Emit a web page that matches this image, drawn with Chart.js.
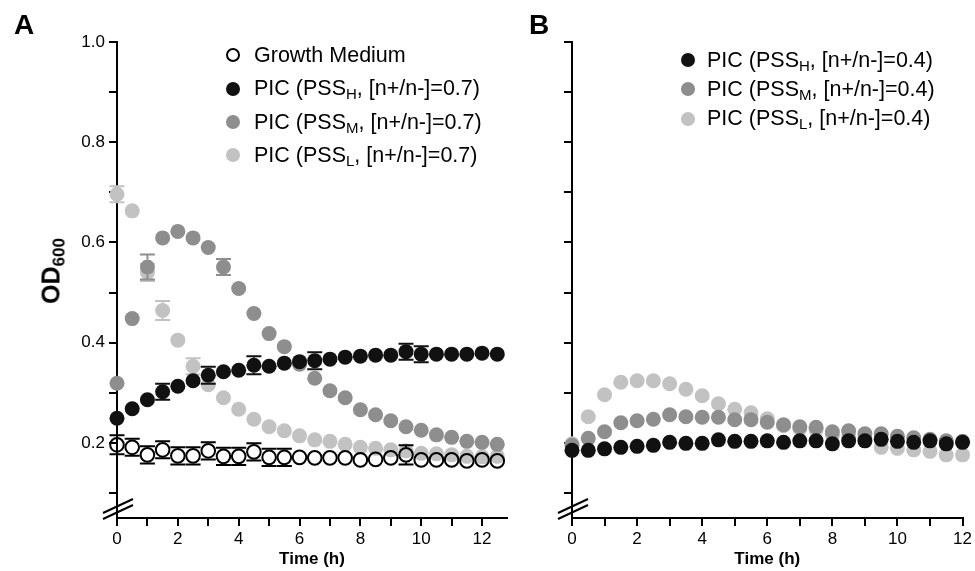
<!DOCTYPE html>
<html><head><meta charset="utf-8">
<script src="https://cdn.jsdelivr.net/npm/chart.js@4.4.0/dist/chart.umd.min.js"></script>
<style>
html,body{margin:0;padding:0;background:#fff;}
#wrap{position:relative;width:975px;height:571px;overflow:hidden;font-family:"Liberation Sans",Arial,sans-serif;color:#000;background:#fff;}
canvas{position:absolute;top:0;}
.panel{position:absolute;font-weight:bold;font-size:28px;line-height:28px;}
.leg{position:absolute;font-size:21.5px;white-space:nowrap;line-height:21px;}
.mk{position:absolute;width:14px;height:14px;border-radius:50%;box-sizing:border-box;}
.leg sub{font-size:15px;vertical-align:-4px;line-height:0;}
#ytitle{position:absolute;font-weight:bold;font-size:25px;line-height:25px;white-space:nowrap;transform:translate(-50%,-50%) rotate(-90deg);}
#ytitle sub{font-size:17px;vertical-align:-5px;line-height:0;}
</style></head>
<body>
<div id="wrap">
  <canvas id="cA" width="520" height="571" style="left:0;width:520px;height:571px"></canvas>
  <canvas id="cB" width="455" height="571" style="left:520px;width:455px;height:571px"></canvas>
  <div class="panel" style="left:14px;top:11px">A</div>
  <div class="panel" style="left:529px;top:11px">B</div>
  <div id="ytitle" style="left:51px;top:271px">OD<sub>600</sub></div>
  <div id="legA"></div>
  <div id="legB"></div>
</div>
<script>
// ---------- data ----------
const timesA = [0,0.5,1,1.5,2,2.5,3,3.5,4,4.5,5,5.5,6,6.5,7,7.5,8,8.5,9,9.5,10,10.5,11,11.5,12,12.5];
const timesB = [0,0.5,1,1.5,2,2.5,3,3.5,4,4.5,5,5.5,6,6.5,7,7.5,8,8.5,9,9.5,10,10.5,11,11.5,12];

const growthMedium = [0.196,0.191,0.176,0.186,0.174,0.174,0.184,0.173,0.173,0.182,0.171,0.171,0.171,0.170,0.170,0.170,0.166,0.167,0.170,0.176,0.166,0.166,0.166,0.164,0.166,0.164];
const growthMediumErr = [0.019,0.017,0.017,0.017,0.017,0.017,0.017,0.017,0.017,0.017,0.017,0.017,0,0,0,0,0,0,0,0.019,0,0,0,0,0,0];

const pssH07 = [0.249,0.268,0.286,0.302,0.313,0.324,0.335,0.342,0.345,0.355,0.353,0.359,0.362,0.364,0.367,0.371,0.373,0.375,0.375,0.382,0.377,0.377,0.377,0.377,0.379,0.377];
const pssH07Err = [0,0,0,0.016,0,0,0.017,0,0,0.018,0,0,0,0.017,0,0,0,0,0,0.016,0.016,0,0,0,0,0];

const pssM07 = [0.319,0.448,0.551,0.609,0.622,0.609,0.590,0.551,0.508,0.458,0.418,0.392,0.357,0.329,0.304,0.290,0.266,0.256,0.244,0.232,0.225,0.216,0.211,0.203,0.201,0.197];
const pssM07Err = [0,0,0.025,0,0,0,0,0.016,0,0,0,0,0,0,0,0,0,0,0,0,0,0,0,0,0,0];

const pssL07 = [0.696,0.663,0.540,0.464,0.405,0.353,0.316,0.290,0.267,0.247,0.232,0.224,0.214,0.206,0.203,0.197,0.191,0.189,0.186,0.184,0.179,0.178,0.176,0.173,0.172,0.173];
const pssL07Err = [0.016,0,0.017,0.019,0,0.016,0,0,0,0,0,0,0,0,0,0,0,0,0,0,0,0,0,0,0,0];

const pssH04 = [0.185,0.185,0.188,0.191,0.193,0.195,0.201,0.199,0.199,0.206,0.203,0.203,0.204,0.201,0.204,0.204,0.198,0.204,0.204,0.207,0.203,0.201,0.204,0.198,0.201];
const pssM04 = [0.195,0.209,0.222,0.240,0.244,0.247,0.256,0.252,0.251,0.251,0.246,0.246,0.241,0.236,0.232,0.231,0.222,0.224,0.218,0.218,0.213,0.210,0.207,0.204,0.203];
const pssL04 = [0.198,0.252,0.296,0.321,0.324,0.324,0.318,0.307,0.294,0.278,0.267,0.260,0.248,0.234,0.228,0.226,0.215,0.213,0.210,0.191,0.189,0.186,0.183,0.176,0.176];

const xTicks = [0,1,2,3,4,5,6,7,8,9,10,11,12];
const xLabelTicks = [0,2,4,6,8,10,12];
const yTicks = [0.1,0.2,0.3,0.4,0.5,0.6,0.7,0.8,0.9,1.0];
const yLabelTicks = [0.2,0.4,0.6,0.8,1.0];

const legendA = [['Growth Medium','',''],['PIC (PSS','H',', [n+/n-]=0.7)'],['PIC (PSS','M',', [n+/n-]=0.7)'],['PIC (PSS','L',', [n+/n-]=0.7)']];
const legendB = [['PIC (PSS','H',', [n+/n-]=0.4)'],['PIC (PSS','M',', [n+/n-]=0.4)'],['PIC (PSS','L',', [n+/n-]=0.4)']];
const xTitle = 'Time (h)';

// ---------- styles ----------
const FONT = '"Liberation Sans", Arial, sans-serif';
const C_BLACK = '#111111', C_MED = '#8e8e8e', C_LIGHT = '#c2c2c2';

function pts(xs, ys){ return xs.map((x,i)=>({x:x, y:ys[i]})); }

function dsFilled(label, xs, ys, color, errs){
  return {label, data: pts(xs, ys), pointRadius: 7.5, pointBackgroundColor: color, pointBorderWidth: 0,
    pointBorderColor: color, showLine: false, errors: errs || null, errColor: color, clip: false};
}
function dsOpen(label, xs, ys, errs){
  return {label, data: pts(xs, ys), pointRadius: 6.8, pointBackgroundColor: 'rgba(0,0,0,0)',
    pointBorderColor: '#000', pointBorderWidth: 2, showLine: false, errors: errs, errColor: '#000', clip: false};
}

const errorBarPlugin = {
  id: 'errbars',
  afterDatasetDraw(chart, args){
    const ds = chart.data.datasets[args.index];
    if (!ds.errors) return;
    const xs = chart.scales.x, ys = chart.scales.y, ctx = chart.ctx;
    const r = ds.pointRadius + (ds.pointBorderWidth ? ds.pointBorderWidth/2 : 0);
    const cap = 7.5;
    ctx.save();
    ctx.strokeStyle = ds.errColor; ctx.lineWidth = 2;
    ds.data.forEach((p,i)=>{
      const e = ds.errors[i]; if (!e) return;
      const px = xs.getPixelForValue(p.x);
      const pc = ys.getPixelForValue(p.y);
      [1,-1].forEach(s=>{
        const pe = ys.getPixelForValue(p.y + s*e);
        if (Math.abs(pe - pc) < r) return;
        ctx.beginPath();
        ctx.moveTo(px, pc - s*r); ctx.lineTo(px, pe);
        ctx.moveTo(px - cap, pe); ctx.lineTo(px + cap, pe);
        ctx.stroke();
      });
    });
    ctx.restore();
  }
};

const breakPlugin = {
  id: 'axisbreak',
  afterDraw(chart){
    const a = chart.chartArea, ctx = chart.ctx;
    ctx.save();
    ctx.strokeStyle = '#000'; ctx.lineWidth = 2;
    ctx.beginPath();
    ctx.moveTo(a.left - 14, a.bottom - 5); ctx.lineTo(a.left + 16, a.bottom - 19);
    ctx.moveTo(a.left - 14, a.bottom + 1); ctx.lineTo(a.left + 16, a.bottom - 13);
    ctx.stroke();
    ctx.restore();
  }
};

function makeOptions(xMax, yAxisWidth, showYLabels, padRight){
  return {
    responsive: false, animation: false, events: [],
    layout: {padding: {left: 0, right: padRight, top: 42, bottom: 0}},
    plugins: {legend: {display: false}, tooltip: {enabled: false}},
    scales: {
      x: {type: 'linear', min: 0, max: xMax,
        afterBuildTicks: s => { s.ticks = xTicks.map(v => ({value: v})); },
        afterFit: s => { s.height = 53; },
        ticks: {autoSkip: false, maxRotation: 0, padding: 3, color: '#000',
          font: {size: 17, family: FONT},
          callback: v => xLabelTicks.includes(v) ? String(v) : ''},
        grid: {drawOnChartArea: false, drawTicks: true, tickLength: 8, color: '#000', lineWidth: 2},
        border: {display: true, color: '#000', width: 2},
        title: {display: true, text: xTitle, color: '#000', font: {size: 17, weight: 'bold', family: FONT},
          padding: {top: 0, bottom: 1}}
      },
      y: {type: 'linear', min: 0.05, max: 1.0,
        afterBuildTicks: s => { s.ticks = yTicks.map(v => ({value: v})); },
        afterFit: s => { s.width = yAxisWidth; },
        ticks: {autoSkip: false, padding: 4, color: '#000', font: {size: 17, family: FONT},
          callback: v => (showYLabels && yLabelTicks.includes(v)) ? v.toFixed(1) : ''},
        grid: {drawOnChartArea: false, drawTicks: true, tickLength: 8, color: '#000', lineWidth: 2},
        border: {display: true, color: '#000', width: 2}
      }
    }
  };
}

new Chart(document.getElementById('cA'), {
  type: 'scatter',
  data: {datasets: [
    dsOpen('Growth Medium', timesA, growthMedium, growthMediumErr),
    dsFilled('PIC (PSSH, [n+/n-]=0.7)', timesA, pssH07, C_BLACK, pssH07Err),
    dsFilled('PIC (PSSM, [n+/n-]=0.7)', timesA, pssM07, C_MED, pssM07Err),
    dsFilled('PIC (PSSL, [n+/n-]=0.7)', timesA, pssL07, C_LIGHT, pssL07Err)
  ]},
  options: makeOptions(12.82, 117, true, 13),
  plugins: [errorBarPlugin, breakPlugin]
});

new Chart(document.getElementById('cB'), {
  type: 'scatter',
  data: {datasets: [
    dsFilled('PIC (PSSH, [n+/n-]=0.4)', timesB, pssH04, C_BLACK),
    dsFilled('PIC (PSSM, [n+/n-]=0.4)', timesB, pssM04, C_MED),
    dsFilled('PIC (PSSL, [n+/n-]=0.4)', timesB, pssL04, C_LIGHT)
  ]},
  options: makeOptions(12, 52, false, 12),
  plugins: [errorBarPlugin, breakPlugin]
});

// ---------- legends (HTML text with subscripts) ----------
function buildLegend(el, items, styles, mkX, textX, rowYs){
  items.forEach((parts, i) => {
    const y = rowYs[i];
    const mk = document.createElement('div');
    mk.className = 'mk';
    mk.style.left = (mkX - 7) + 'px'; mk.style.top = (y - 7) + 'px';
    if (styles[i] === 'open') { mk.style.border = '2px solid #000'; mk.style.background = 'transparent'; }
    else { mk.style.background = styles[i]; }
    el.appendChild(mk);
    const t = document.createElement('div');
    t.className = 'leg';
    t.style.left = textX + 'px'; t.style.top = (y - 10.5) + 'px';
    t.appendChild(document.createTextNode(parts[0]));
    if (parts[1]) { const s = document.createElement('sub'); s.textContent = parts[1]; t.appendChild(s); }
    if (parts[2]) t.appendChild(document.createTextNode(parts[2]));
    el.appendChild(t);
  });
}
buildLegend(document.getElementById('legA'), legendA, ['open', C_BLACK, C_MED, C_LIGHT], 233, 254, [55, 88.5, 122, 155]);
buildLegend(document.getElementById('legB'), legendB, [C_BLACK, C_MED, C_LIGHT], 688, 707, [60, 89, 118.5]);
</script>
</body></html>
